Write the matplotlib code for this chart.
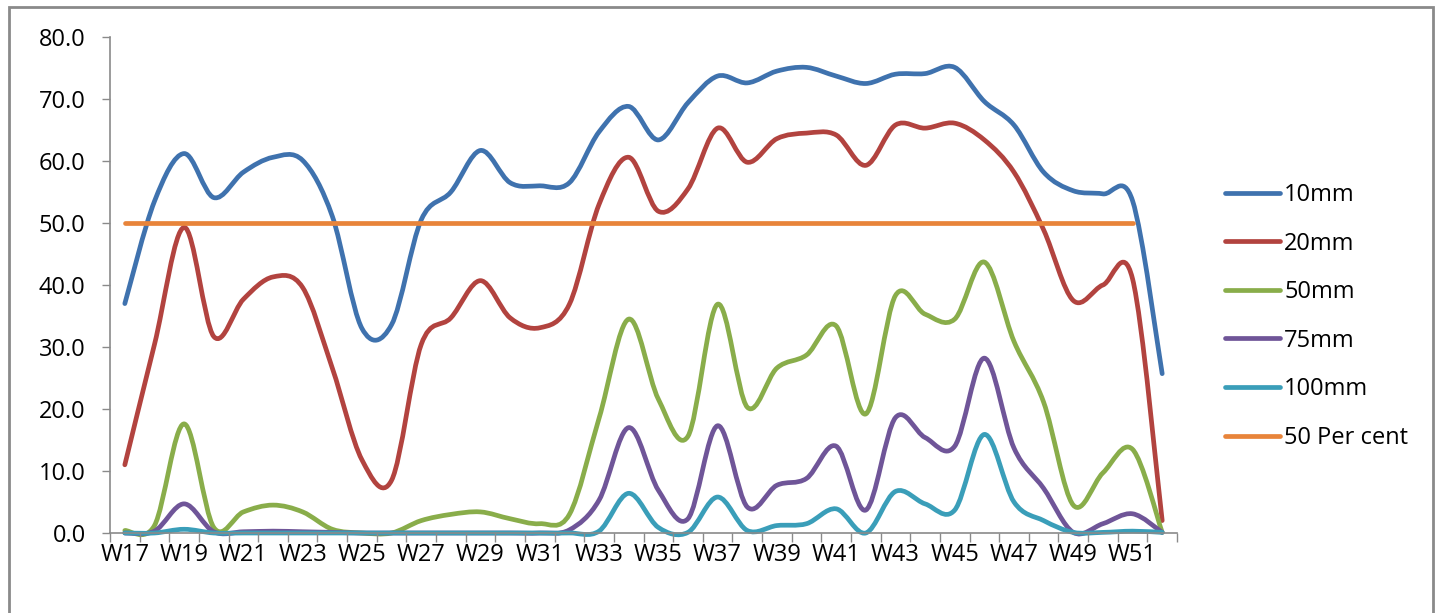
import numpy as np
import matplotlib
matplotlib.use("Agg")
import matplotlib.pyplot as plt
from matplotlib.path import Path
from matplotlib.patches import PathPatch, Rectangle
from matplotlib.lines import Line2D

weeks = ["W%d" % w for w in range(17, 53)]

mm10 = [37.0, 53.5, 61.2, 54.1, 58.2, 60.6, 60.1, 51.1, 33.0, 33.6, 50.5, 55.0, 61.7,
        56.5, 56.0, 56.5, 64.7, 68.8, 63.4, 69.4, 73.7, 72.6, 74.5, 75.1,
        73.7, 72.5, 74.0, 74.1, 75.1, 69.6, 65.8, 58.2, 55.2, 54.7, 53.6, 25.7]
mm20 = [11.0, 30.4, 49.3, 31.7, 37.7, 41.3, 39.6, 26.6, 11.8, 8.5, 30.4, 34.7, 40.7,
        34.7, 33.1, 36.9, 53.0, 60.6, 51.9, 55.5, 65.3, 59.8, 63.6, 64.5,
        64.2, 59.3, 65.8, 65.3, 66.1, 63.4, 58.2, 48.9, 37.5, 40.0, 41.0, 2.0]
mm50 = [0.4, 1.2, 17.6, 0.9, 3.4, 4.5, 3.4, 0.6, 0.0, 0.0, 2.0, 3.0, 3.4,
        2.3, 1.5, 3.0, 18.5, 34.5, 21.6, 15.6, 36.9, 20.3, 26.6, 28.7,
        33.4, 19.2, 38.3, 35.3, 34.5, 43.7, 30.9, 21.1, 4.5, 9.7, 13.5, 0.1]
mm75 = [0.0, 0.3, 4.7, 0.2, 0.2, 0.3, 0.2, 0.1, 0.0, 0.0, 0.0, 0.0, 0.0,
        0.0, 0.0, 0.5, 5.3, 17.0, 6.9, 2.3, 17.3, 4.2, 7.7, 8.8,
        14.0, 3.7, 18.6, 15.4, 14.0, 28.2, 13.7, 7.2, 0.1, 1.5, 3.1, 0.1]
mm100 = [0.0, 0.0, 0.6, 0.0, 0.0, 0.0, 0.0, 0.0, 0.0, 0.0, 0.0, 0.0, 0.0,
         0.0, 0.0, 0.0, 0.3, 6.4, 0.9, 0.1, 5.8, 0.4, 1.2, 1.5,
         3.9, 0.0, 6.7, 4.7, 3.7, 15.9, 5.0, 2.0, 0.1, 0.1, 0.3, 0.1]
pct50 = [50.0] * 35 + [np.nan]

series = [("10mm", mm10, "#3f72ae"),
          ("20mm", mm20, "#b2433f"),
          ("50mm", mm50, "#89ad4a"),
          ("75mm", mm75, "#6f5598"),
          ("100mm", mm100, "#3a9eb9")]
pct_color = "#e8843a"
grey = "#8a8a8a"
lw = 3.4


def smooth_path(xs, ys):
    # cubic bezier through every point (catmull-rom style tangents)
    p = np.column_stack([xs, ys]).astype(float)
    n = len(p)
    verts = [p[0]]
    codes = [Path.MOVETO]
    for i in range(n - 1):
        p0 = p[max(i - 1, 0)]
        p1 = p[i]
        p2 = p[i + 1]
        p3 = p[min(i + 2, n - 1)]
        verts += [p1 + (p2 - p0) / 6.0, p2 - (p3 - p1) / 6.0, p2]
        codes += [Path.CURVE4] * 3
    return Path(verts, codes)


plt.rcParams['font.family'] = ['Open Sans', 'DejaVu Sans']
fig = plt.figure(figsize=(14.38, 6.13), dpi=100)
ax = fig.add_axes([110 / 1438, 1 - 533 / 613, (1177 - 110) / 1438, (533 - 37) / 613])

x = np.arange(len(weeks))
for name, vals, col in series:
    ax.add_patch(PathPatch(smooth_path(x, vals), fill=False, edgecolor=col, lw=lw,
                           capstyle='round', joinstyle='round', clip_on=False))
ax.plot(x, pct50, color=pct_color, lw=lw, solid_capstyle='round', clip_on=False)

ax.set_xlim(-0.5, len(weeks) - 0.5)
ax.set_ylim(0, 80)
ax.set_yticks(np.arange(0, 81, 10))
ax.set_yticklabels(["%.1f" % v for v in np.arange(0, 81, 10)])

# boundary ticks between categories, labels on every second week
ax.set_xticks(np.arange(-0.5, len(weeks), 1.0))
ax.set_xticklabels([])
ax.set_xticks(x[::2], minor=True)
ax.set_xticklabels(weeks[::2], minor=True)
ax.tick_params(axis='x', which='major', length=6.5, width=1, color=grey, direction='out')
ax.tick_params(axis='x', which='minor', length=0, pad=7.5, labelsize=17)
ax.tick_params(axis='y', length=5.5, width=1, color=grey, direction='out', pad=12, labelsize=17)

for s in ['top', 'right']:
    ax.spines[s].set_visible(False)
for s in ['left', 'bottom']:
    ax.spines[s].set_color(grey)
    ax.spines[s].set_linewidth(1.2)

handles = [Line2D([], [], color=c, lw=lw, solid_capstyle='round') for _, _, c in series]
handles.append(Line2D([], [], color=pct_color, lw=lw, solid_capstyle='round'))
labels = [s[0] for s in series] + ["50 Per cent"]
fig.legend(handles, labels, loc='upper left', bbox_to_anchor=(1225 / 1438, 1 - 183 / 613),
           frameon=False, fontsize=17, handlelength=2.35, handletextpad=0.15,
           labelspacing=1.04, borderpad=0, borderaxespad=0)

# outer chart frame
fig.patches.append(Rectangle((9 / 1438, -0.1), (1433 - 9) / 1438, 1.1 - 7 / 613,
                             transform=fig.transFigure, fill=False, edgecolor=grey, lw=2))

fig.savefig("out.png", dpi=100)
